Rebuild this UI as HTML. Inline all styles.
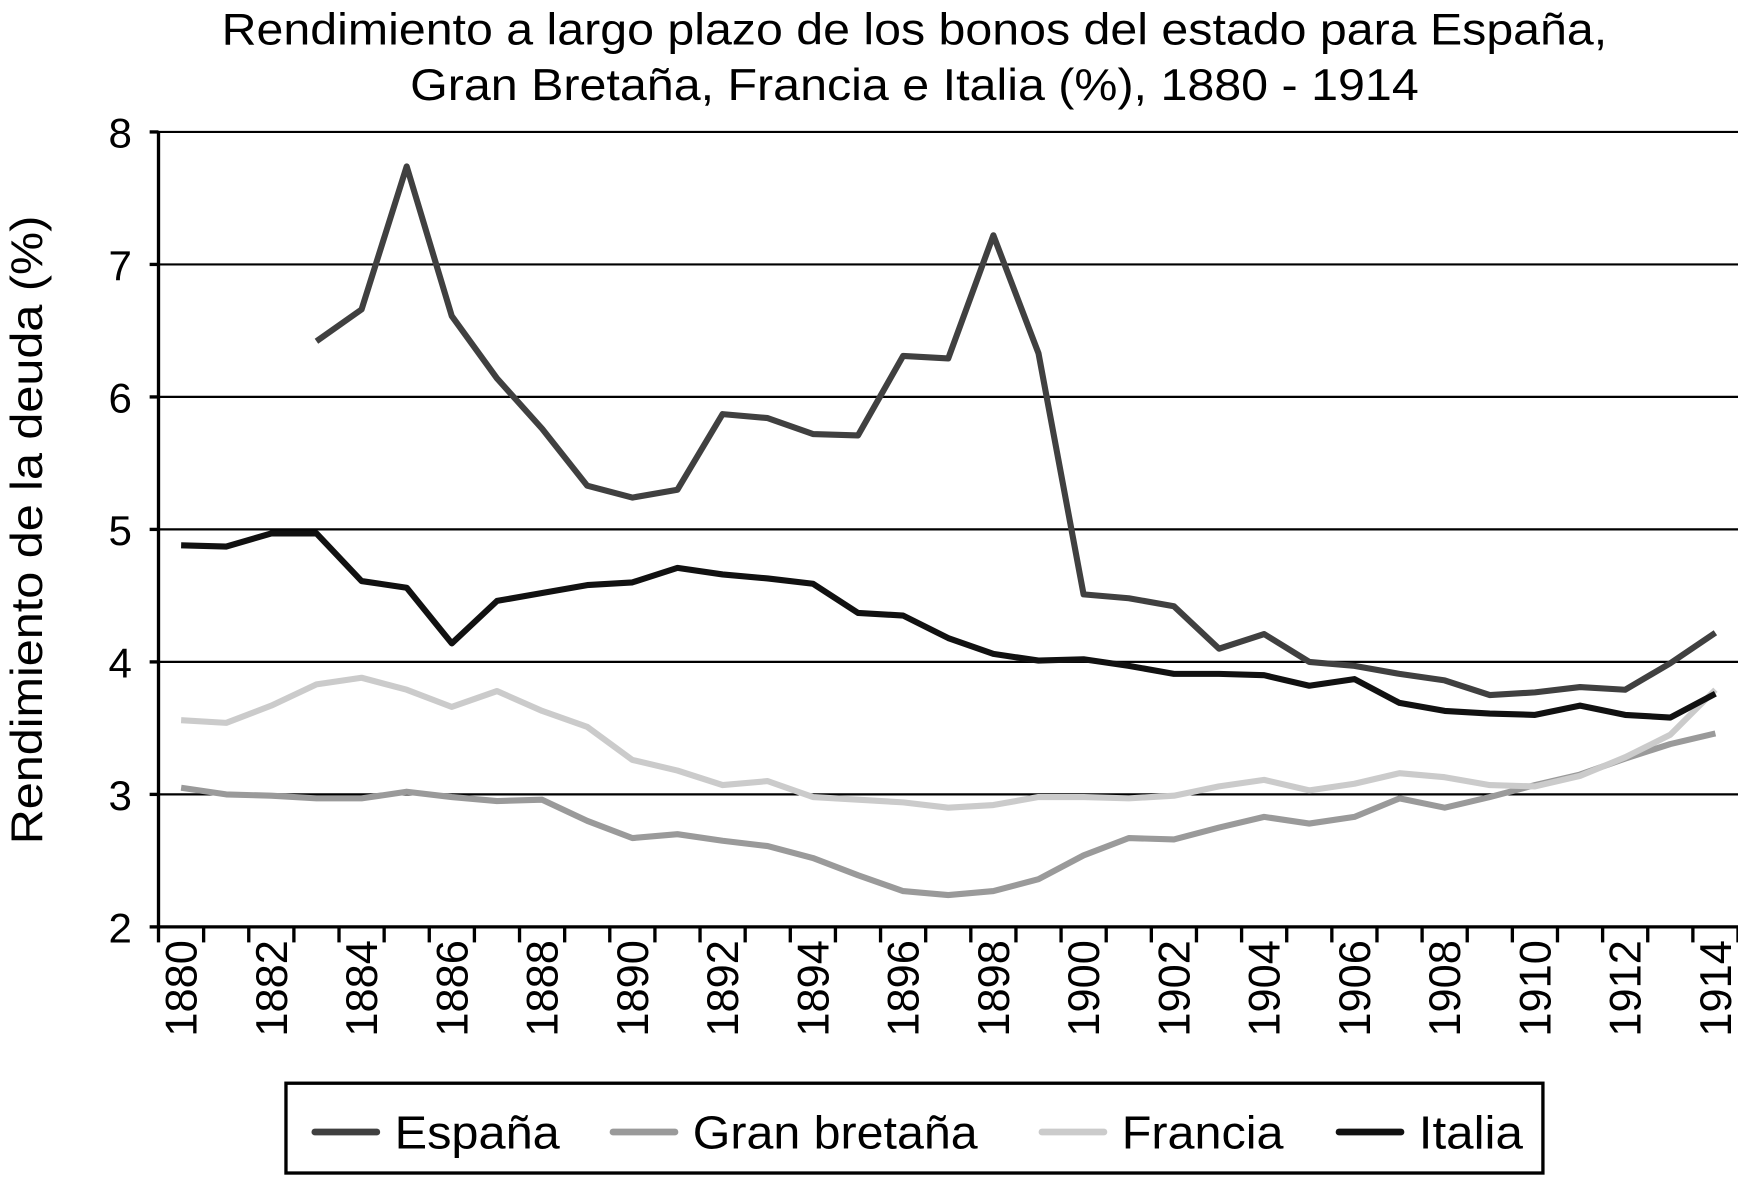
<!DOCTYPE html>
<html><head><meta charset="utf-8"><style>
html,body{margin:0;padding:0;background:#fff}
svg{display:block;font-family:"Liberation Sans",sans-serif}
</style></head><body>
<svg width="1738" height="1183" viewBox="0 0 1568 1067" preserveAspectRatio="none">
<text x="825" y="40" font-size="40" text-anchor="middle" textLength="1250" lengthAdjust="spacingAndGlyphs">Rendimiento a largo plazo de los bonos del estado para España,</text>
<text x="825" y="90" font-size="40" text-anchor="middle" textLength="910" lengthAdjust="spacingAndGlyphs">Gran Bretaña, Francia e Italia (%), 1880 - 1914</text>
<text transform="translate(38,478) rotate(-90)" font-size="40" text-anchor="middle" textLength="567" lengthAdjust="spacingAndGlyphs">Rendimiento de la deuda (%)</text>
<g id="grid"></g><g id="axes"></g><g id="series"></g>
<g>
<rect x="258" y="977" width="1134" height="81" fill="#fff" stroke="#000" stroke-width="3"/>
<g><line x1="284" y1="1021" x2="340" y2="1021" stroke="#404040" stroke-width="6" stroke-linecap="round"/><text x="356" y="1036" font-size="42" textLength="149" lengthAdjust="spacingAndGlyphs">España</text></g>
<g><line x1="553" y1="1021" x2="609" y2="1021" stroke="#9a9a9a" stroke-width="6" stroke-linecap="round"/><text x="625" y="1036" font-size="42" textLength="257" lengthAdjust="spacingAndGlyphs">Gran bretaña</text></g>
<g><line x1="940" y1="1021" x2="996" y2="1021" stroke="#cbcbcb" stroke-width="6" stroke-linecap="round"/><text x="1012" y="1036" font-size="42" textLength="146" lengthAdjust="spacingAndGlyphs">Francia</text></g>
<g><line x1="1208" y1="1021" x2="1264" y2="1021" stroke="#111" stroke-width="6" stroke-linecap="round"/><text x="1280" y="1036" font-size="42" textLength="94" lengthAdjust="spacingAndGlyphs">Italia</text></g>
</g>
</svg>
<script>
const years=[];for(let y=1880;y<=1914;y++)years.push(y);
const yTicks=[2,3,4,5,6,7,8];
const espana=[null,null,null,6.42,6.66,7.74,6.61,6.14,5.76,5.33,5.24,5.30,5.87,5.84,5.72,5.71,6.31,6.29,7.22,6.33,4.51,4.48,4.42,4.10,4.21,4.00,3.97,3.91,3.86,3.75,3.77,3.81,3.79,3.99,4.22];
const granBretana=[3.05,3.00,2.99,2.97,2.97,3.02,2.98,2.95,2.96,2.80,2.67,2.70,2.65,2.61,2.52,2.39,2.27,2.24,2.27,2.36,2.54,2.67,2.66,2.75,2.83,2.78,2.83,2.97,2.90,2.98,3.07,3.15,3.27,3.38,3.46];
const francia=[3.56,3.54,3.67,3.83,3.88,3.79,3.66,3.78,3.63,3.51,3.26,3.18,3.07,3.10,2.98,2.96,2.94,2.90,2.92,2.98,2.98,2.97,2.99,3.06,3.11,3.03,3.08,3.16,3.13,3.07,3.06,3.14,3.28,3.45,3.79];
const italia=[4.88,4.87,4.97,4.97,4.61,4.56,4.14,4.46,4.52,4.58,4.60,4.71,4.66,4.63,4.59,4.37,4.35,4.18,4.06,4.01,4.02,3.97,3.91,3.91,3.90,3.82,3.87,3.69,3.63,3.61,3.60,3.67,3.60,3.58,3.76];
const NS='http://www.w3.org/2000/svg';
const X0=143,X1=1568,Y0=836,Y1=119,vmin=2,vmax=8;
const bw=(X1-X0)/years.length;
const xc=i=>X0+bw*(i+0.5);
const yv=v=>Y0-(v-vmin)/(vmax-vmin)*(Y0-Y1);
function mk(tag,attrs,parent){const e=document.createElementNS(NS,tag);for(const k in attrs)e.setAttribute(k,attrs[k]);parent.appendChild(e);return e;}
const grid=document.getElementById('grid'),axes=document.getElementById('axes'),ser=document.getElementById('series');
yTicks.forEach(t=>{
 if(t>vmin){const g=mk('line',{x1:X0,x2:X1,y1:yv(t),y2:yv(t),stroke:'#000','stroke-width':2},grid);
 
 }
 const tk=mk('line',{x1:X0-8,x2:X0,y1:yv(t),y2:yv(t),stroke:'#000','stroke-width':3},axes);
 
 
 const tx=mk('text',{x:X0-24,y:yv(t)+14,'font-size':38,'text-anchor':'end'},axes);tx.textContent=t;
 
 
});
const ya=mk('line',{x1:X0,x2:X0,y1:Y1,y2:Y0+1.5,stroke:'#000','stroke-width':3},axes);


const xa=mk('line',{x1:X0,x2:X1,y1:Y0,y2:Y0,stroke:'#000','stroke-width':3},axes);


for(let i=0;i<=years.length;i++){const tk=mk('line',{x1:X0+bw*i,x2:X0+bw*i,y1:Y0,y2:Y0+14,stroke:'#000','stroke-width':3},axes);
 
 }
years.forEach((y,i)=>{if(i%2)return;
 const tx=mk('text',{transform:`translate(${xc(i)+14},${Y0+12}) rotate(-90)`,'font-size':40,'text-anchor':'end',textLength:87,lengthAdjust:'spacingAndGlyphs'},axes);tx.textContent=y;
 
 });
function line(data,color,name){let d='',pen=false;data.forEach((v,i)=>{if(v==null){pen=false;return;}d+=(pen?'L':'M')+xc(i).toFixed(1)+','+yv(v).toFixed(1);pen=true;});
 const p=mk('path',{d:d,fill:'none',stroke:color,'stroke-width':5.5,'stroke-linejoin':'round'},ser);
 
 }
line(granBretana,'#9a9a9a','series-gran-bretana');
line(francia,'#cbcbcb','series-francia');
line(italia,'#111','series-italia');
line(espana,'#404040','series-espana');
</script>
</body></html>
